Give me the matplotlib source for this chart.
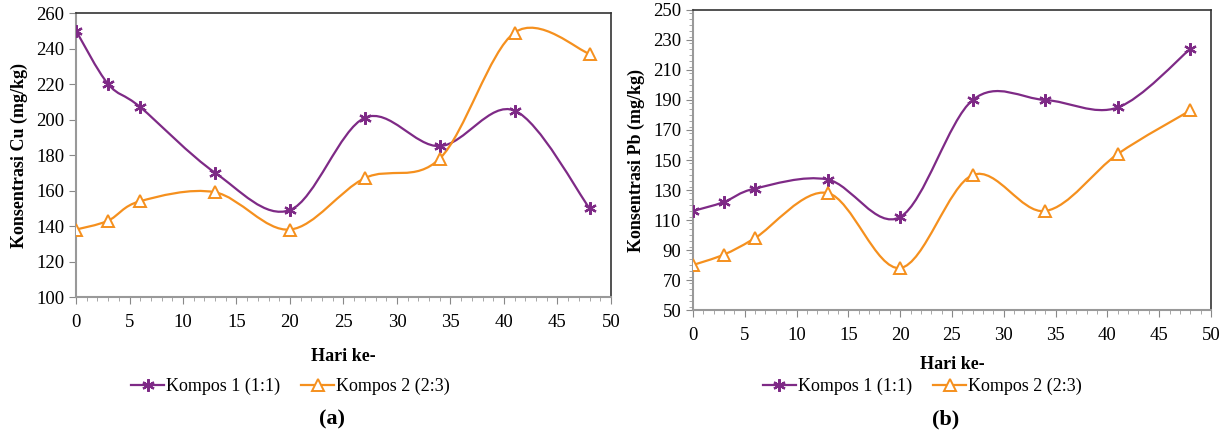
import matplotlib.pyplot as plt
import numpy as np
from matplotlib.path import Path
from matplotlib.patches import PathPatch
from matplotlib.lines import Line2D
from matplotlib.ticker import MultipleLocator

plt.rcParams['font.family'] = ['Liberation Serif', 'DejaVu Serif']

# data
hari = [0, 3, 6, 13, 20, 27, 34, 41, 48]
cu_k1 = [250, 220, 207, 170, 149, 201, 185, 205, 150]
cu_k2 = [138, 143, 154, 159, 138, 167, 178, 249, 237]
pb_k1 = [116, 122, 131, 137, 112, 190, 190, 185, 224]
pb_k2 = [80, 87, 98, 128, 78, 140, 116, 154, 183]
labels = ['Kompos 1 (1:1)', 'Kompos 2 (2:3)']

purple = '#7E2A86'
orange = '#F5901E'


def smooth_path(x, y):
    # Excel-like smoothed line: catmull-rom as cubic bezier segments
    p = np.column_stack([x, y]).astype(float)
    n = len(p)
    verts = [p[0]]
    codes = [Path.MOVETO]
    for i in range(n - 1):
        p0 = p[i - 1] if i > 0 else p[i]
        p3 = p[i + 2] if i + 2 < n else p[i + 1]
        c1 = p[i] + (p[i + 1] - p0) / 6
        c2 = p[i + 1] - (p3 - p[i]) / 6
        verts += [c1, c2, p[i + 1]]
        codes += [Path.CURVE4] * 3
    return Path(verts, codes)


def draw(ax, ys, ylim, yminor, ylabel, xlab_y):
    styles = [dict(color=purple, marker=(6, 2, 0), ms=9, mew=1.6),
              dict(color=orange, marker='^', ms=9, mfc='white', mew=1.4)]
    for y, st in zip(ys, styles):
        ax.add_patch(PathPatch(smooth_path(hari, y), fill=False,
                               ec=st['color'], lw=1.6, zorder=2))
        ax.plot(hari, y, ls='none', zorder=3, **st)
    ax.set_xlim(0, 50)
    ax.set_ylim(*ylim)
    ax.set_yticks(np.arange(ylim[0], ylim[1] + 1, 20))
    ax.xaxis.set_major_locator(MultipleLocator(5))
    ax.xaxis.set_minor_locator(MultipleLocator(1))
    if yminor:
        ax.yaxis.set_minor_locator(MultipleLocator(yminor))
    ax.tick_params(which='major', direction='out', length=5, color='#888888',
                   labelsize=13.5)
    ax.tick_params(axis='x', which='major', pad=7)
    ax.tick_params(which='minor', direction='out', length=3, color='#999999')
    for s in ['left', 'bottom']:
        ax.spines[s].set_color('#999999')
        ax.spines[s].set_linewidth(1.5)
    for s in ['top', 'right']:
        ax.spines[s].set_color('#333333')
        ax.spines[s].set_linewidth(1.2)
    ax.set_ylabel(ylabel, fontsize=13, fontweight='bold', labelpad=6)
    ax.set_xlabel('Hari ke-', fontsize=13, fontweight='bold')
    ax.xaxis.set_label_coords(0.5, xlab_y)
    handles = [Line2D([], [], lw=1.6, **styles[0]),
               Line2D([], [], lw=1.6, **styles[1])]
    return handles


fig = plt.figure(figsize=(12.2, 4.38), dpi=100)
ax1 = fig.add_axes([0.0623, 0.3219, 0.4385, 0.6484])
ax2 = fig.add_axes([0.568, 0.2922, 0.4246, 0.685])

h1 = draw(ax1, [cu_k1, cu_k2], (100, 260), None, 'Konsentrasi Cu (mg/kg)', -0.18)
h2 = draw(ax2, [pb_k1, pb_k2], (50, 250), 4, 'Konsentrasi Pb (mg/kg)', -0.153)

fig.legend(h1, labels, loc='center', bbox_to_anchor=(0.238, 0.118), ncol=2,
           frameon=False, fontsize=13, handlelength=1.8, handletextpad=0.1,
           columnspacing=1.2)
fig.legend(h2, labels, loc='center', bbox_to_anchor=(0.756, 0.118), ncol=2,
           frameon=False, fontsize=13, handlelength=1.8, handletextpad=0.1,
           columnspacing=1.2)

fig.text(0.272, 0.03, '(a)', ha='center', fontsize=16, fontweight='bold')
fig.text(0.775, 0.03, '(b)', ha='center', fontsize=16, fontweight='bold')

plt.savefig('out.png', dpi=100)
